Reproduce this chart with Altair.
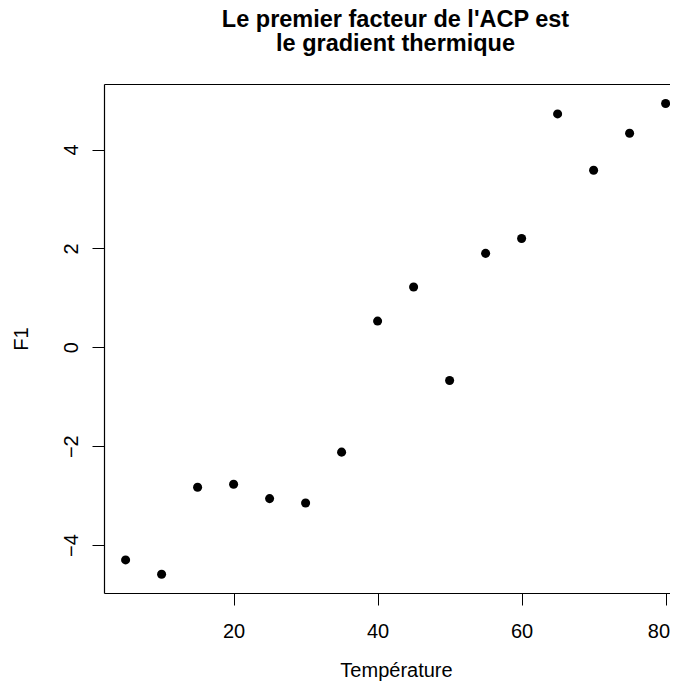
import altair as alt
import pandas as pd

temperature = [5, 10, 15, 20, 25, 30, 35, 40, 45, 50, 55, 60, 65, 70, 75, 80]
f1 = [-4.30, -4.59, -2.83, -2.77, -3.06, -3.15, -2.12, 0.53, 1.22, -0.67,
      1.90, 2.20, 4.72, 3.58, 4.33, 4.93]
x_ticks = [20, 40, 60, 80]
y_ticks = [-4, -2, 0, 2, 4]
title_lines = ["Le premier facteur de l'ACP est", "le gradient thermique"]

df = pd.DataFrame({"Température": temperature, "F1": f1})

FONT = "Liberation Sans"
x_scale = alt.Scale(domain=[2, 80.61], nice=False, zero=False)
y_scale = alt.Scale(domain=[-4.969, 5.325], nice=False, zero=False)

last_tick = f"datum.value === {x_ticks[-1]}"

base = alt.Chart(df)

points = base.mark_circle(size=82, color="black", opacity=1).encode(
    x=alt.X("Température:Q", scale=x_scale,
            axis=alt.Axis(values=x_ticks, grid=False, domain=True,
                          domainColor="black", domainWidth=1.2,
                          tickSize=12, tickColor="black", tickWidth=1,
                          labelPadding=32, labelBaseline="alphabetic",
                          labelAlign={"condition": {"test": last_tick, "value": "right"},
                                      "value": "center"},
                          labelOffset={"condition": {"test": last_tick, "value": 4},
                                       "value": 0},
                          labelFontSize=20, labelColor="black", labelFont=FONT,
                          title="Température", titleFontSize=20, titleFont=FONT,
                          titleFontWeight="normal", titleColor="black",
                          titleBaseline="alphabetic", titleX=292, titleY=83)),
    y=alt.Y("F1:Q", scale=y_scale,
            axis=alt.Axis(values=y_ticks, grid=False, domain=True,
                          domainColor="black", domainWidth=1.2,
                          tickSize=12, tickColor="black", tickWidth=1,
                          labelAngle=-90, labelAlign="center",
                          labelBaseline="alphabetic", labelPadding=15,
                          labelFontSize=20, labelColor="black", labelFont=FONT,
                          labelExpr="replace(datum.label, '-', '−')",
                          title="F1", titleFontSize=20, titleFont=FONT,
                          titleFontWeight="normal", titleColor="black",
                          titleAngle=-90, titleAlign="center",
                          titleBaseline="alphabetic", titleX=-77, titleY=254.5)),
)

top_border = base.mark_circle(opacity=0).encode(
    x=alt.X("Température:Q", scale=x_scale,
            axis=alt.Axis(orient="top", labels=False, ticks=False, grid=False,
                          domain=True, domainColor="black", domainWidth=1.2,
                          title=None)),
    y=alt.Y("F1:Q", scale=y_scale),
)

chart = alt.layer(points, top_border).resolve_axis(x="independent").properties(
    width=566,
    height=509,
    title=alt.TitleParams(text=title_lines, anchor="middle", fontSize=23.5,
                          font=FONT, fontWeight="bold", color="black",
                          baseline="alphabetic", lineHeight=24, offset=10,
                          dx=8.5),
    padding={"left": 96, "top": 76, "right": 0, "bottom": 89},
    autosize=alt.AutoSizeParams(type="none"),
).configure_view(
    stroke=None
)

chart.save("out.html", embed_options={"renderer": "svg", "actions": False})
